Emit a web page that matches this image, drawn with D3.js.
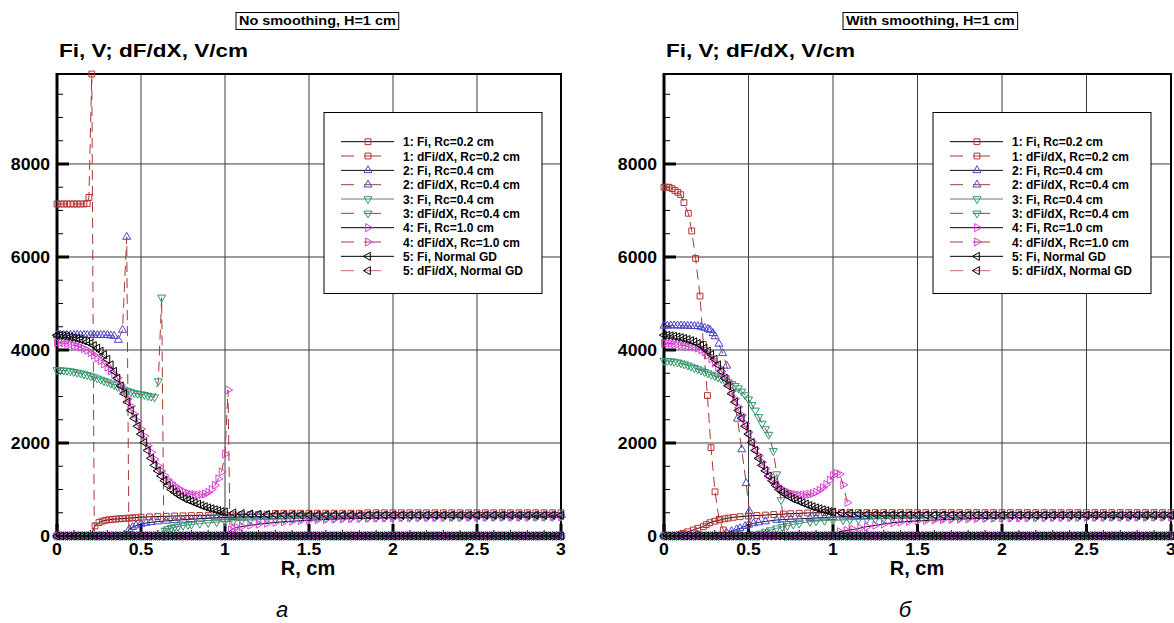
<!DOCTYPE html>
<html>
<head>
<meta charset="utf-8">
<script src="https://cdn.jsdelivr.net/npm/d3@7"></script>
<style>
body { margin: 0; background: #fff; }
svg { display: block; }
text { font-family: "Liberation Sans", Arial, sans-serif; }
</style>
</head>
<body>
<script>
// ---------- data ----------
const xTicks = [0, 0.5, 1, 1.5, 2, 2.5, 3];
const xTickLabels = ["0", "0.5", "1", "1.5", "2", "2.5", "3"];
const yTicks = [2000, 4000, 6000, 8000];
const yTickLabels = ["2000", "4000", "6000", "8000"];
const yMax = 9935;

const legendLabels = [
  "1: Fi, Rc=0.2 cm", "1: dFi/dX, Rc=0.2 cm",
  "2: Fi, Rc=0.4 cm", "2: dFi/dX, Rc=0.4 cm",
  "3: Fi, Rc=0.4 cm", "3: dFi/dX, Rc=0.4 cm",
  "4: Fi, Rc=1.0 cm", "4: dFi/dX, Rc=1.0 cm",
  "5: Fi, Normal GD", "5: dFi/dX, Normal GD"
];

// r positions of the points that lie on zero
const baseR = [0,.025,.05,.075,.1,.125,.15,.175,.2,.225,.25,.275,.3,.325,.35,.375,.4,.425,.45,.475,.5,.525,.55,.575,.6,.625,.65,.675,.7,.725,.75,.775,.8,.825,.85,.875,.9,.925,.95,.975,1,1.025,1.05,1.075,1.1,1.125,1.15,1.175,1.2,1.225,1.25,1.275,1.3,1.325,1.35,1.375,1.4,1.425,1.45,1.475,1.5,1.525,1.55,1.575,1.6,1.625,1.65,1.675,1.7,1.725,1.75,1.775,1.8,1.825,1.85,1.875,1.9,1.925,1.95,1.975,2,2.025,2.05,2.075,2.1,2.125,2.15,2.175,2.2,2.225,2.25,2.275,2.3,2.325,2.35,2.375,2.4,2.425,2.45,2.475,2.5,2.525,2.55,2.575,2.6,2.625,2.65,2.675,2.7,2.725,2.75,2.775,2.8,2.825,2.85,2.875,2.9,2.925,2.95,2.975,3];
// r positions of the flat tails
const tailR = [1.5,1.55,1.6,1.65,1.7,1.75,1.8,1.85,1.9,1.95,2,2.05,2.1,2.15,2.2,2.25,2.3,2.35,2.4,2.45,2.5,2.55,2.6,2.65,2.7,2.75,2.8,2.85,2.9,2.95,3];

// case 5 (normal GD) is the same in both panels
const normalGD = [[0,4320],[0.02,4315],[0.04,4305],[0.06,4295],[0.08,4280],[0.1,4265],[0.12,4245],[0.14,4225],[0.16,4200],[0.18,4175],[0.2,4140],[0.22,4095],[0.24,4040],[0.26,3975],[0.28,3900],[0.3,3800],[0.32,3680],[0.34,3540],[0.36,3390],[0.38,3230],[0.4,3060],[0.42,2880],[0.44,2700],[0.46,2530],[0.48,2360],[0.5,2190],[0.52,2010],[0.54,1840],[0.56,1670],[0.58,1520],[0.6,1400],[0.62,1290],[0.64,1190],[0.66,1090],[0.68,1000],[0.7,940],[0.72,890],[0.74,845],[0.76,805],[0.78,775],[0.8,745],[0.82,715],[0.84,685],[0.86,655],[0.88,630],[0.9,605],[0.92,585],[0.94,565],[0.96,545],[0.98,525],[1.0,515],[1.05,495],[1.1,483],[1.15,474],[1.2,468],[1.25,463],[1.3,460],[1.35,457],[1.4,455],[1.45,453]];
const normalGDTail = [452,451,450,450,449,449,448,448,448,447,447,447,447,446,446,446,446,446,445,445,445,445,445,445,444,444,444,444,444,444,444];

// ---- panel a: no smoothing ----
const a1Field = [[0,7140],[0.02,7140],[0.04,7140],[0.06,7140],[0.08,7140],[0.1,7140],[0.12,7140],[0.14,7140],[0.16,7140],[0.18,7150],[0.19,7280],[0.207,9935],[0.222,0]];
const a1FieldZeroFrom = 0.225;
const a1FiZeroTo = 0.2;
const a1Fi = [[0.226,215],[0.25,290],[0.27,320],[0.29,338],[0.31,350],[0.33,358],[0.35,364],[0.37,370],[0.39,375],[0.41,380],[0.43,385],[0.45,390],[0.47,395],[0.5,405],[0.55,412],[0.6,418],[0.65,424],[0.7,430],[0.75,434],[0.8,438],[0.85,442],[0.9,446],[0.95,450],[1.0,453],[1.05,456],[1.1,459],[1.15,462],[1.2,465],[1.25,468],[1.3,485],[1.35,490],[1.4,490],[1.45,490]];
const a1FiTail = [490,490,490,490,490,490,490,500,500,500,500,500,500,500,500,500,500,500,500,500,500,500,500,500,500,500,500,500,500,500,500];

const a2Field = [[0,4320],[0.02,4320],[0.04,4320],[0.06,4320],[0.08,4320],[0.1,4320],[0.12,4320],[0.14,4320],[0.16,4320],[0.18,4320],[0.2,4320],[0.22,4320],[0.24,4320],[0.26,4320],[0.28,4320],[0.3,4320],[0.32,4310],[0.34,4300],[0.365,4215],[0.39,4430],[0.415,6430],[0.428,0]];
const a2FieldZeroFrom = 0.45;
const a2FiZeroTo = 0.4;
const a2Fi = [[0.43,143],[0.45,190],[0.47,225],[0.5,258],[0.53,280],[0.56,295],[0.6,310],[0.65,325],[0.7,338],[0.75,350],[0.8,360],[0.85,370],[0.9,382],[0.95,392],[1.0,400],[1.05,405],[1.1,410],[1.15,415],[1.2,418],[1.25,420],[1.3,423],[1.35,425],[1.4,427],[1.45,429]];
const a2FiTail = [430,432,433,434,435,436,437,438,438,439,439,440,440,440,441,441,441,442,442,442,442,443,443,443,443,444,444,444,444,445,445];

const a3Field = [[0,3570],[0.02,3565],[0.04,3560],[0.06,3555],[0.08,3545],[0.1,3530],[0.12,3515],[0.14,3500],[0.16,3480],[0.18,3465],[0.2,3440],[0.22,3415],[0.24,3390],[0.26,3365],[0.28,3335],[0.3,3310],[0.32,3280],[0.34,3245],[0.36,3210],[0.38,3175],[0.4,3150],[0.42,3120],[0.44,3095],[0.46,3075],[0.48,3060],[0.5,3050],[0.52,3035],[0.54,3015],[0.56,3000],[0.58,2985],[0.603,3330],[0.623,5130],[0.636,0]];
const a3FieldZeroFrom = 0.65;
const a3FiZeroTo = 0.625;
const a3Fi = [[0.643,115],[0.66,150],[0.68,175],[0.7,192],[0.72,205],[0.75,225],[0.78,240],[0.8,248],[0.85,268],[0.9,285],[0.95,300],[1.0,312],[1.05,325],[1.1,335],[1.15,343],[1.2,350],[1.25,356],[1.3,362],[1.35,367],[1.4,372],[1.45,376]];
const a3FiTail = [380,383,386,389,391,393,395,397,399,400,401,402,403,404,405,406,407,408,408,409,409,410,410,411,411,412,412,413,413,414,414];

const a4Field = [[0,4160],[0.02,4155],[0.04,4150],[0.06,4140],[0.08,4125],[0.1,4105],[0.12,4085],[0.14,4060],[0.16,4030],[0.18,3995],[0.2,3940],[0.22,3890],[0.24,3830],[0.26,3770],[0.28,3700],[0.3,3630],[0.32,3550],[0.34,3480],[0.36,3400],[0.38,3250],[0.4,3110],[0.42,2950],[0.44,2790],[0.46,2620],[0.48,2470],[0.5,2300],[0.52,2150],[0.54,1940],[0.56,1800],[0.58,1650],[0.6,1510],[0.62,1400],[0.64,1300],[0.66,1210],[0.68,1140],[0.7,1080],[0.72,1030],[0.74,980],[0.76,945],[0.78,915],[0.8,895],[0.82,885],[0.84,880],[0.86,890],[0.88,905],[0.9,940],[0.92,1000],[0.94,1090],[0.96,1230],[0.98,1380],[1.0,1760],[1.018,3140],[1.03,0]];
const a4FieldZeroFrom = 1.05;
const a4FiZeroTo = 1.0;
const a4Fi = [[1.035,130],[1.05,160],[1.07,185],[1.1,205],[1.15,232],[1.2,255],[1.25,275],[1.3,292],[1.35,306],[1.4,318],[1.45,330]];
const a4FiTail = [340,348,355,362,368,373,378,382,386,389,392,394,396,398,400,401,402,403,404,405,406,407,408,408,409,410,410,411,411,412,412];

// ---- panel b: with smoothing ----
const b1Field = [[0,7500],[0.015,7500],[0.03,7500],[0.048,7470],[0.065,7430],[0.082,7390],[0.099,7340],[0.118,7170],[0.144,6940],[0.164,6560],[0.187,5970],[0.213,5160],[0.233,4120],[0.257,3020],[0.278,1900],[0.302,950],[0.326,360],[0.351,130],[0.37,0]];
const b1FieldZeroFrom = 0.375;
const b1FiZeroTo = 0.075;
const b1Fi = [[0.1,40],[0.114,57],[0.14,90],[0.173,130],[0.2,165],[0.233,200],[0.25,245],[0.272,286],[0.3,318],[0.331,344],[0.36,370],[0.38,385],[0.41,402],[0.45,415],[0.5,430],[0.55,440],[0.6,450],[0.65,462],[0.706,473],[0.75,480],[0.8,488],[0.85,495],[0.9,500],[0.95,502],[1.0,502],[1.05,502],[1.1,503],[1.15,503],[1.2,503],[1.25,503],[1.3,503],[1.35,503],[1.4,503],[1.45,503]];
const b1FiTail = [503,503,503,503,503,503,503,503,503,503,503,503,503,503,503,503,503,503,503,503,503,503,503,503,503,503,503,503,503,503,503];

const b2Field = [[0,4520],[0.02,4522],[0.04,4525],[0.06,4525],[0.08,4525],[0.1,4523],[0.12,4520],[0.14,4518],[0.16,4515],[0.18,4512],[0.2,4510],[0.22,4495],[0.24,4475],[0.26,4450],[0.272,4430],[0.29,4360],[0.302,4290],[0.325,4130],[0.347,3930],[0.371,3660],[0.435,2520],[0.46,1860],[0.486,1133],[0.505,530],[0.515,0]];
const b2FieldZeroFrom = 0.525;
const b2FiZeroTo = 0.35;
const b2Fi = [[0.37,70],[0.4,100],[0.43,140],[0.45,165],[0.48,210],[0.5,240],[0.53,272],[0.56,292],[0.6,312],[0.667,344],[0.7,352],[0.75,362],[0.8,370],[0.864,380],[0.9,388],[0.95,398],[1.0,405],[1.06,415],[1.1,420],[1.15,424],[1.2,427],[1.25,430],[1.3,432],[1.35,434],[1.4,436],[1.45,438]];
const b2FiTail = [439,440,441,442,442,443,443,444,444,445,445,445,446,446,446,447,447,447,447,448,448,448,448,448,449,449,449,449,449,450,450];

const b3Field = [[0,3770],[0.02,3765],[0.04,3760],[0.06,3750],[0.08,3735],[0.1,3715],[0.12,3695],[0.14,3670],[0.16,3645],[0.18,3615],[0.2,3590],[0.22,3560],[0.24,3530],[0.26,3500],[0.28,3470],[0.3,3440],[0.32,3410],[0.34,3380],[0.36,3350],[0.38,3310],[0.4,3270],[0.42,3230],[0.44,3180],[0.46,3110],[0.48,3030],[0.5,2940],[0.52,2820],[0.54,2700],[0.56,2560],[0.58,2420],[0.6,2300],[0.62,2180],[0.647,1830],[0.667,1330],[0.693,774],[0.715,0]];
const b3FieldZeroFrom = 0.725;
const b3FiZeroTo = 0.55;
const b3Fi = [[0.568,57],[0.6,95],[0.63,125],[0.667,165],[0.7,195],[0.73,222],[0.765,250],[0.8,270],[0.864,308],[0.9,320],[0.95,332],[1.0,340],[1.06,344],[1.1,350],[1.15,356],[1.2,361],[1.25,366],[1.3,370],[1.35,374],[1.4,378],[1.45,381]];
const b3FiTail = [384,387,390,392,394,396,398,400,401,402,403,404,405,406,407,408,408,409,409,410,410,411,411,412,412,413,413,414,414,415,415];

const b4Field = [[0,4145],[0.02,4143],[0.04,4140],[0.06,4130],[0.08,4120],[0.1,4110],[0.12,4095],[0.14,4080],[0.16,4075],[0.18,4060],[0.2,4040],[0.22,4005],[0.24,3960],[0.26,3890],[0.28,3810],[0.3,3720],[0.32,3630],[0.34,3540],[0.36,3440],[0.38,3300],[0.4,3120],[0.42,2950],[0.44,2780],[0.46,2600],[0.48,2420],[0.5,2230],[0.52,2030],[0.54,1880],[0.56,1730],[0.58,1590],[0.6,1450],[0.62,1320],[0.64,1210],[0.66,1120],[0.68,1050],[0.7,1000],[0.72,960],[0.74,930],[0.76,905],[0.78,890],[0.8,882],[0.82,880],[0.84,885],[0.86,895],[0.88,915],[0.9,945],[0.92,985],[0.94,1040],[0.96,1110],[0.98,1200],[1.0,1300],[1.02,1345],[1.04,1330],[1.06,1100],[1.085,720],[1.1,0]];
const b4FieldZeroFrom = 1.1;
const b4FiZeroTo = 1.0;
const b4Fi = [[1.04,93],[1.08,120],[1.12,140],[1.16,170],[1.2,200],[1.25,230],[1.3,258],[1.357,286],[1.4,300],[1.45,313]];
const b4FiTail = [325,335,344,352,359,365,370,375,379,383,386,389,391,393,395,397,398,399,400,401,402,403,404,404,405,405,406,406,407,407,408];

// ---------- styles ----------
const caseStyle = [
  { sym: d3.symbolSquare,   size: 34, rot: 0,   color: "#b83232", fiLine: "#000",    dfLine: "#a83838" },
  { sym: d3.symbolTriangle, size: 28, rot: 0,   color: "#4646cc", fiLine: "#111",    dfLine: "#a83838" },
  { sym: d3.symbolTriangle, size: 28, rot: 180, color: "#2c9a6c", fiLine: "#777",    dfLine: "#a83838" },
  { sym: d3.symbolTriangle, size: 28, rot: 90,  color: "#dc3cdc", fiLine: "#000",    dfLine: "#a83838" },
  { sym: d3.symbolTriangle, size: 28, rot: -90, color: "#000",    fiLine: "#000",    dfLine: "#c46a6a" }
];

// ---------- build series ----------
function zeroRun(lo, hi) {
  return baseR.filter(r => r >= lo && r <= hi).map(r => [r, 0]);
}
function tail(vals) {
  return tailR.map((r, i) => [r, vals[i]]);
}

const panels = [
  {
    x0: 57, x1: 561, title: "No smoothing, H=1 cm", titleX: 236, legendX: 324,
    letter: "а", letterX: 282, xlabelX: 308,
    cases: [
      { fi: zeroRun(0, a1FiZeroTo).concat(a1Fi, tail(a1FiTail)), df: a1Field.concat(zeroRun(a1FieldZeroFrom, 3)) },
      { fi: zeroRun(0, a2FiZeroTo).concat(a2Fi, tail(a2FiTail)), df: a2Field.concat(zeroRun(a2FieldZeroFrom, 3)) },
      { fi: zeroRun(0, a3FiZeroTo).concat(a3Fi, tail(a3FiTail)), df: a3Field.concat(zeroRun(a3FieldZeroFrom, 3)) },
      { fi: zeroRun(0, a4FiZeroTo).concat(a4Fi, tail(a4FiTail)), df: a4Field.concat(zeroRun(a4FieldZeroFrom, 3)) },
      { fi: zeroRun(0, 3), df: normalGD.concat(tail(normalGDTail)) }
    ]
  },
  {
    x0: 664, x1: 1171, title: "With smoothing, H=1 cm", titleX: 843, legendX: 933,
    letter: "б", letterX: 905, xlabelX: 917,
    cases: [
      { fi: zeroRun(0, b1FiZeroTo).concat(b1Fi, tail(b1FiTail)), df: b1Field.concat(zeroRun(b1FieldZeroFrom, 3)) },
      { fi: zeroRun(0, b2FiZeroTo).concat(b2Fi, tail(b2FiTail)), df: b2Field.concat(zeroRun(b2FieldZeroFrom, 3)) },
      { fi: zeroRun(0, b3FiZeroTo).concat(b3Fi, tail(b3FiTail)), df: b3Field.concat(zeroRun(b3FieldZeroFrom, 3)) },
      { fi: zeroRun(0, b4FiZeroTo).concat(b4Fi, tail(b4FiTail)), df: b4Field.concat(zeroRun(b4FieldZeroFrom, 3)) },
      { fi: zeroRun(0, 3), df: normalGD.concat(tail(normalGDTail)) }
    ]
  }
];

// ---------- drawing ----------
const width = 1174, height = 623;
const yTop = 74, yBottom = 536;

const svg = d3.select("body").append("svg")
  .attr("width", width).attr("height", height);

function stretch(sel, k) {
  sel.each(function () {
    const w = this.getComputedTextLength();
    d3.select(this).attr("textLength", w * k).attr("lengthAdjust", "spacingAndGlyphs");
  });
}

function marker(st) {
  return d3.symbol().type(st.sym).size(st.size)();
}

panels.forEach(p => {
  const x = d3.scaleLinear().domain([0, 3]).range([p.x0, p.x1]);
  const y = d3.scaleLinear().domain([0, yMax]).range([yBottom, yTop]);
  const g = svg.append("g");

  // grid
  g.append("g").selectAll("line").data(xTicks.slice(1, -1)).join("line")
    .attr("x1", d => x(d)).attr("x2", d => x(d)).attr("y1", yTop).attr("y2", yBottom)
    .attr("stroke", "#3c3c3c").attr("stroke-width", 1);
  g.append("g").selectAll("line").data(yTicks).join("line")
    .attr("x1", p.x0).attr("x2", p.x1).attr("y1", d => y(d)).attr("y2", d => y(d))
    .attr("stroke", "#3c3c3c").attr("stroke-width", 1);

  // minor ticks
  g.append("g").selectAll("line").data(d3.range(500, yMax, 500)).join("line")
    .attr("x1", p.x0).attr("x2", p.x0 + 6).attr("y1", d => y(d)).attr("y2", d => y(d))
    .attr("stroke", "#000").attr("stroke-width", 1);
  g.append("g").selectAll("line").data(d3.range(0.1, 3, 0.1)).join("line")
    .attr("x1", d => x(d)).attr("x2", d => x(d)).attr("y1", yBottom).attr("y2", yBottom - 6)
    .attr("stroke", "#000").attr("stroke-width", 1);
  // major ticks
  g.append("g").selectAll("line").data(yTicks).join("line")
    .attr("x1", p.x0).attr("x2", p.x0 + 12).attr("y1", d => y(d)).attr("y2", d => y(d))
    .attr("stroke", "#000").attr("stroke-width", 3);
  g.append("g").selectAll("line").data(xTicks).join("line")
    .attr("x1", d => x(d)).attr("x2", d => x(d)).attr("y1", yBottom).attr("y2", yBottom - 12)
    .attr("stroke", "#000").attr("stroke-width", 3);

  // frame
  g.append("rect").attr("x", p.x0).attr("y", yTop).attr("width", p.x1 - p.x0).attr("height", yBottom - yTop)
    .attr("fill", "none").attr("stroke", "#000").attr("stroke-width", 2);
  g.append("line").attr("x1", p.x0).attr("x2", p.x0).attr("y1", yTop - 1).attr("y2", yBottom + 1)
    .attr("stroke", "#000").attr("stroke-width", 3);
  g.append("line").attr("x1", p.x0 - 1).attr("x2", p.x1 + 1).attr("y1", yBottom).attr("y2", yBottom)
    .attr("stroke", "#000").attr("stroke-width", 3);

  // tick labels
  g.append("g").selectAll("text").data(yTicks.concat([0])).join("text")
    .attr("x", p.x0 - 7).attr("y", d => y(d) + 6)
    .attr("text-anchor", "end").attr("font-size", 16).attr("font-weight", "bold")
    .text((d, i) => i < yTickLabels.length ? yTickLabels[i] : "0")
    .call(stretch, 1.1);
  g.append("g").selectAll("text").data(xTicks).join("text")
    .attr("x", d => x(d)).attr("y", 555)
    .attr("text-anchor", "middle").attr("font-size", 16).attr("font-weight", "bold")
    .text((d, i) => xTickLabels[i])
    .call(stretch, 1.1);

  // axis titles
  g.append("text").attr("x", p.x0 + 2).attr("y", 57)
    .attr("font-size", 19).attr("font-weight", "bold")
    .attr("textLength", 189).attr("lengthAdjust", "spacingAndGlyphs")
    .text("Fi, V; dF/dX, V/cm");
  g.append("text").attr("x", p.xlabelX).attr("y", 575).attr("text-anchor", "middle")
    .attr("font-size", 20).attr("font-weight", "bold").text("R, cm");
  g.append("text").attr("x", p.letterX).attr("y", 617).attr("text-anchor", "middle")
    .attr("font-family", "'Liberation Serif', 'Times New Roman', serif")
    .attr("font-style", "italic").attr("font-size", 22).text(p.letter);

  // boxed title
  const tg = g.append("g");
  const tr = tg.append("rect");
  const tt = tg.append("text").attr("x", p.titleX + 3).attr("y", 25)
    .attr("font-size", 13).attr("font-weight", "bold").text(p.title)
    .call(stretch, 1.11);
  const tw = +tt.attr("textLength");
  tr.attr("x", p.titleX).attr("y", 12.5).attr("width", tw + 6).attr("height", 17)
    .attr("fill", "#fff").attr("stroke", "#000").attr("stroke-width", 1);

  // series
  const line = d3.line().x(d => x(d[0])).y(d => y(d[1]));
  const dataG = g.append("g");
  p.cases.forEach((c, k) => {
    const st = caseStyle[k];
    [["fi", c.fi], ["df", c.df]].forEach(([kind, pts]) => {
      dataG.append("path").datum(pts)
        .attr("fill", "none")
        .attr("stroke", kind === "fi" ? st.fiLine : st.dfLine)
        .attr("stroke-width", 1)
        .attr("stroke-dasharray", kind === "df" ? "10,6" : null)
        .attr("d", line);
      dataG.append("g").selectAll("path").data(pts).join("path")
        .attr("d", marker(st))
        .attr("transform", d => `translate(${x(d[0])},${y(d[1])}) rotate(${st.rot})`)
        .attr("fill", "none").attr("stroke", st.color).attr("stroke-width", 1);
    });
  });

  // legend
  const lg = g.append("g").attr("transform", `translate(${p.legendX},112.5)`);
  lg.append("rect").attr("width", 218).attr("height", 181)
    .attr("fill", "#fff").attr("stroke", "#000").attr("stroke-width", 1);
  legendLabels.forEach((lab, i) => {
    const st = caseStyle[Math.floor(i / 2)];
    const isDf = i % 2 === 1;
    const ly = 29.2 + i * 14.33;
    lg.append("line").attr("x1", 17).attr("x2", 70).attr("y1", ly).attr("y2", ly)
      .attr("stroke", isDf ? st.dfLine : st.fiLine).attr("stroke-width", 1)
      .attr("stroke-dasharray", isDf ? "13,10,17,20" : null);
    lg.append("path").attr("d", marker(st))
      .attr("transform", `translate(44,${ly}) rotate(${st.rot})`)
      .attr("fill", "none").attr("stroke", st.color).attr("stroke-width", 1);
    lg.append("text").attr("x", 79).attr("y", ly + 4.5)
      .attr("font-size", 12).attr("font-weight", "bold").text(lab);
  });
});
</script>
</body>
</html>
